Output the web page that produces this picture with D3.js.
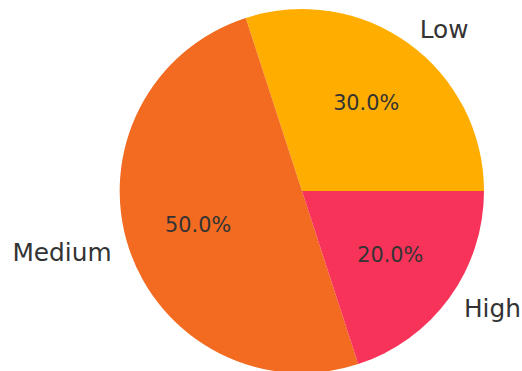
<!DOCTYPE html>
<html>
<head>
<meta charset="utf-8">
<script src="https://cdn.jsdelivr.net/npm/d3@7"></script>
<style>
  html, body { margin: 0; padding: 0; background: #fff; }
</style>
</head>
<body>
<div class="canvas"></div>
<script>
// data
const categories = ['Low', 'Medium', 'High'];
const values = [30, 50, 20];
const colors = ['#FFAE00', '#F26B21', '#F8335A'];

const width = 522, height = 371;
const cx = 302, cy = 191, radius = 182;

const svg = d3.select('.canvas').append('svg')
    .attr('width', width)
    .attr('height', height);

const graph = svg.append('g')
    .attr('transform', `translate(${cx},${cy})`);

const data = categories.map((c, i) => ({ name: c, value: values[i], color: colors[i] }));
const total = d3.sum(values);

// matplotlib style: start at 3 o'clock, go counter-clockwise
const pie = d3.pie()
    .value(d => d.value)
    .sort(null)
    .startAngle(Math.PI / 2)
    .endAngle(Math.PI / 2 - 2 * Math.PI);

const arc = d3.arc().innerRadius(0).outerRadius(radius);
const arcs = pie(data);

graph.selectAll('path')
    .data(arcs)
    .enter().append('path')
    .attr('d', arc)
    .attr('fill', d => d.data.color);

// point at a fraction of radius along the slice middle
const at = (d, f) => {
    const a = (d.startAngle + d.endAngle) / 2;
    return [Math.sin(a) * radius * f, -Math.cos(a) * radius * f];
};

graph.selectAll('.pct')
    .data(arcs)
    .enter().append('text')
    .attr('class', 'pct')
    .attr('x', d => at(d, 0.6)[0])
    .attr('y', d => at(d, 0.6)[1])
    .attr('text-anchor', 'middle')
    .attr('dominant-baseline', 'central')
    .attr('font-family', 'DejaVu Sans')
    .attr('font-size', 20.8)
    .attr('fill', '#333')
    .text(d => (d.data.value / total * 100).toFixed(1) + '%');

graph.selectAll('.lbl')
    .data(arcs)
    .enter().append('text')
    .attr('class', 'lbl')
    .attr('x', d => at(d, 1.1)[0])
    .attr('y', d => at(d, 1.1)[1])
    .attr('text-anchor', d => at(d, 1)[0] > 0 ? 'start' : 'end')
    .attr('dominant-baseline', 'central')
    .attr('font-family', 'DejaVu Sans')
    .attr('font-size', 24.8)
    .attr('fill', '#333')
    .text(d => d.data.name);
</script>
</body>
</html>
